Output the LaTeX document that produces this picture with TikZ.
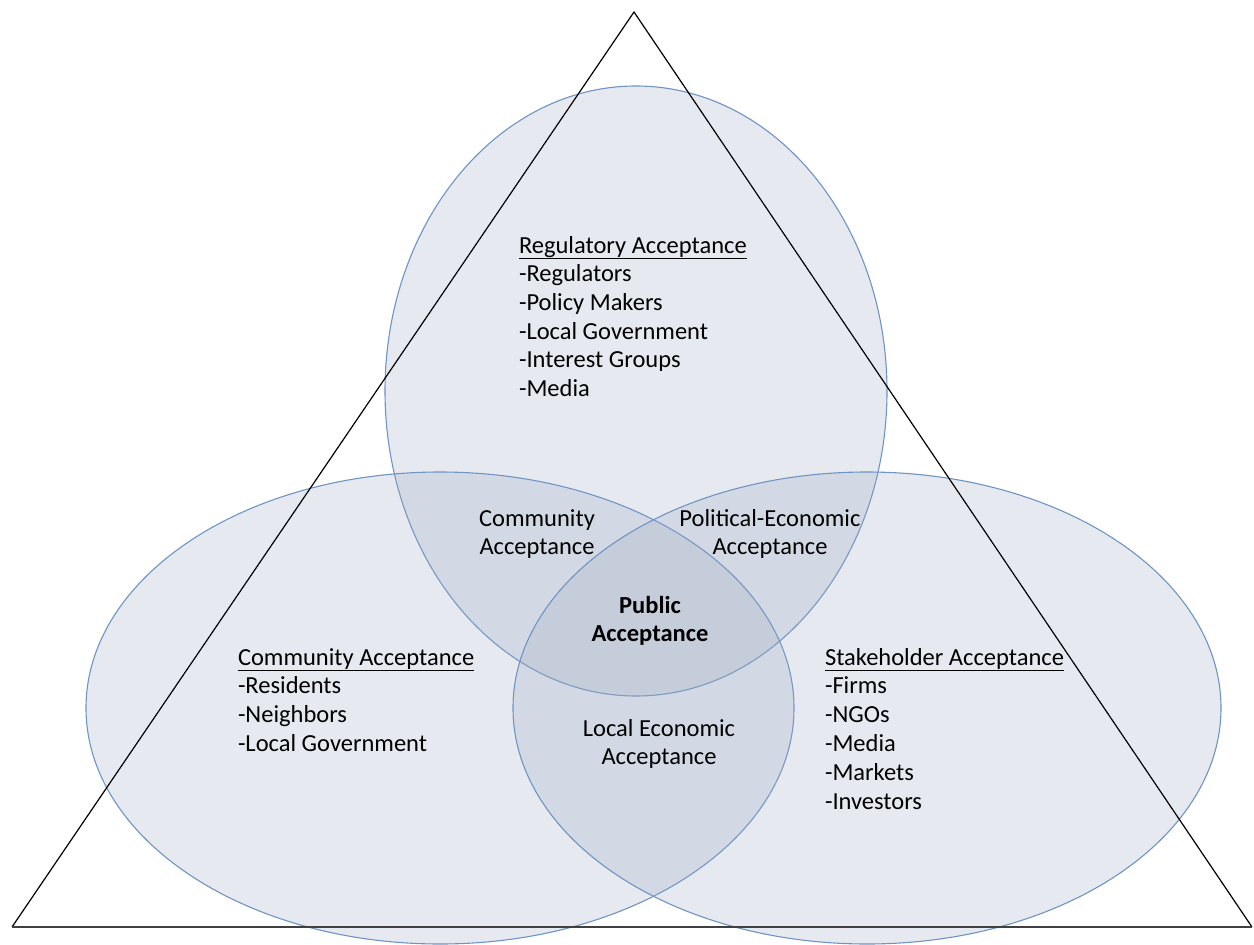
\documentclass[tikz,border=0pt]{standalone}
\usepackage{fontspec}
\setmainfont{Carlito}
\definecolor{vennfill}{RGB}{150,165,190}
\definecolor{vennline}{RGB}{110,148,196}

\begin{document}
\begin{tikzpicture}[x=1pt, y=-1pt, inner sep=0, outer sep=0,
    venn/.style={fill=vennfill, fill opacity=0.24, draw=vennline, line width=1.1pt},
    txt/.style={font=\fontsize{24.5}{28.8}\selectfont, anchor=base west},
    lens/.style={font=\fontsize{24.5}{28.4}\selectfont, align=center}]
    \useasboundingbox (0,0) rectangle (1254,945);
    % coordinaten
    \coordinate (apex) at (634,12);
    \coordinate (baseL) at (12,927);
    \coordinate (baseR) at (1252,927);
    % ellipsen
    \draw[venn] (636,391) ellipse [x radius=251, y radius=305]; % regulatory
    \draw[venn] (440,708) ellipse [x radius=354, y radius=236]; % community
    \draw[venn] (867,708) ellipse [x radius=354, y radius=236]; % stakeholder
    % driehoek
    \draw[line width=1.2pt] (baseL) -- (apex) -- (baseR);
    \draw[line width=2pt, black!75] (baseL) -- (baseR);
    % regulatory
    \node[txt] (reg0) at (519,253) {\underline{Regulatory Acceptance}};
    \foreach \t [count=\i] in {Regulators, Policy Makers, Local Government, Interest Groups, Media}
        \node[txt] (reg\i) at (519,253+28.7*\i) {-\t};
    % community
    \node[txt] (com0) at (238,665) {\underline{Community Acceptance}};
    \foreach \t [count=\i] in {Residents, Neighbors, Local Government}
        \node[txt] (com\i) at (238,665+28.9*\i) {-\t};
    % stakeholder
    \node[txt] (stk0) at (825,665) {\underline{Stakeholder Acceptance}};
    \foreach \t [count=\i] in {Firms, NGOs, Media, Markets, Investors}
        \node[txt] (stk\i) at (825,665+28.9*\i) {-\t};
    % overlap
    \node[lens] (comlens) at (537,534) {Community\\Acceptance};
    \node[lens] (pollens) at (770,534) {Political-Economic\\Acceptance};
    \node[lens, font=\fontsize{24.5}{28.4}\selectfont\bfseries] (public) at (650,621) {Public\\Acceptance};
    \node[lens] (loclens) at (659,744) {Local Economic\\Acceptance};
\end{tikzpicture}
\end{document}
